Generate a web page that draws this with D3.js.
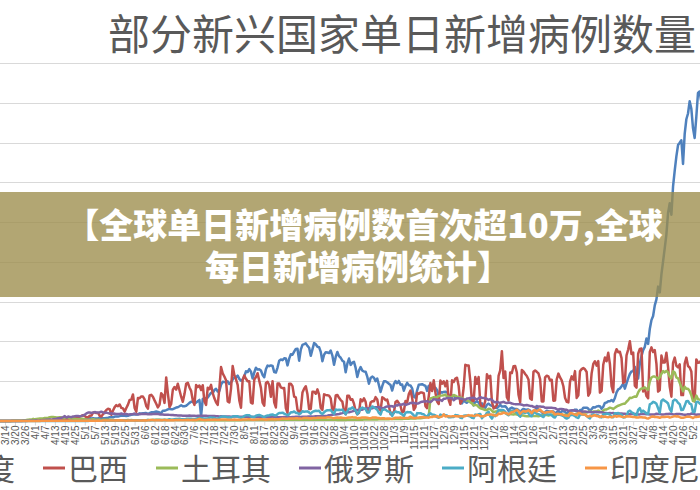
<!DOCTYPE html>
<html><head><meta charset="utf-8">
<script src="https://cdn.jsdelivr.net/npm/d3@7"></script>
<style>
html,body{margin:0;padding:0;background:#fff;}
svg{display:block;}
</style></head>
<body>
<svg id="chart" width="700" height="490"></svg>
<script>
// ---- DATA (daily new cases, thousands; first day 2020-03-01) ----
const startDate = "2020-03-01";
const seriesNames = ["印度","巴西","土耳其","俄罗斯","阿根廷","印度尼西亚"];
const seriesColors = ["#4F81BD","#C0504D","#9BBB59","#8064A2","#4BACC6","#F79646"];
const yTickValues = [0,50,100,150,200,250,300,350,400,450];
const titleText = "部分新兴国家单日新增病例数量";
const bannerLines = ["【全球单日新增病例数首次超10万,全球","每日新增病例统计】"];

const india = [
0,0,0,0,0,0,0, 0,0,0,0,0,0,0, 0,0,0,0,0,0.1,0.1, 0.1,0.1,0.1,0.1,0.1,0.1,0.2,
0.2,0.2,0.4,0.5,0.5,0.5,0.6, 0.5,0.7,0.5,0.5,0.6,0.9,0.9, 0.8,1.2,1.0,0.9,1.1,1.0,1.4,
1.6,1.3,1.5,1.4,1.7,1.8,1.8, 1.6,1.6,1.9,1.7,1.8,2.4,2.5, 2.6,3.9,2.9,3.6,3.3,3.3,3.3,
4.2,3.6,3.6,3.5,3.7,3.9,4.8, 5.0,4.6,5.6,5.6,5.6,6.1,6.7, 6.8,6.5,6.4,6.5,7.3,7.8,8.1,
8.4,8.2,8.3,9.6,9.3,9.8,9.9, 9.9,9.0,9.9,11.0,10.9,11.5,12.0, 11.5,10.7,10.0,13.0,12.9,13.6,14.5,
15.4,14.8,14.9,15.9,16.9,17.3,18.5, 19.9,18.5,18.6,19.1,20.9,22.8,24.3, 24.2,22.2,23.1,24.9,26.5,6.0,27.8,
28.6,28.7,29.4,32.7,35.5,34.9,38.9, 40.4,37.1,37.7,45.7,49.3,48.9,48.7, 49.9,46.5,48.5,52.1,55.1,55.1,57.1,
52.9,50.6,52.1,56.3,62.5,61.5,65.2, 62.1,53.6,61.0,67.0,64.6,65.0,63.5, 57.9,55.1,65.0,69.7,68.9,69.9,69.2,
61.4,60.9,67.2,75.8,77.3,76.5,78.8, 78.5,69.9,78.4,83.9,83.3,87.1,90.6, 90.8,75.8,89.7,95.7,96.6,97.6,94.4,
92.1,81.9,90.1,97.9,96.4,93.3,92.8, 86.9,75.1,83.3,86.5,86.1,85.4,88.6, 82.2,70.6,80.5,86.8,81.5,79.5,75.8,
74.4,61.3,72.0,78.5,70.5,73.3,74.4, 66.7,55.3,63.5,67.7,63.4,62.2,61.9, 55.7,46.8,54.0,55.8,54.4,50.1,53.4,
45.1,36.5,43.9,49.9,49.9,48.6,46.9, 45.2,38.3,46.3,50.2,47.6,50.4,45.7, 45.9,38.1,44.3,47.9,44.9,44.7,41.1,
30.5,29.2,38.6,45.6,45.9,46.2,45.2, 44.1,37.9,44.4,44.5,43.1,41.3,41.8, 38.8,31.1,36.6,35.6,36.6,36.7,36.0,
32.9,26.6,32.1,31.5,29.4,30.0,30.2, 27.1,22.1,26.4,24.0,22.9,25.2,26.6, 24.3,19.6,23.9,24.7,23.1,19.0,22.3,
18.7,16.4,20.5,21.8,20.0,19.1,18.2, 16.5,16.4,18.1,20.3,18.1,18.2,18.6, 16.3,12.6,15.9,16.9,15.6,15.2,15.1,
13.8,10.1,13.8,15.2,14.5,14.3,14.3, 13.2,9.1,12.7,11.7,18.9,13.1,13.1, 11.4,8.6,11.0,12.9,12.4,11.7,12.1,
11.8,9.1,11.1,12.9,9.3,12.1,12.1, 11.6,9.1,11.6,12.9,13.2,13.2,14.3, 14.2,10.6,13.7,13.7,16.7,16.6,16.8,
15.5,12.3,15.0,17.4,17.0,18.3,18.7, 18.6,15.4,17.9,22.8,23.3,24.9,24.9, 26.3,24.5,28.9,35.9,39.7,40.9,43.8,
46.9,40.7,47.3,53.5,59.1,62.3,62.7, 68.0,56.2,53.5,72.3,81.5,89.1,93.2, 103.6,96.9,115.7,126.8,131.9,145.4,152.9,
168.9,161.7,184.4,200.7,217.4,234.7,261.5, 273.8,259.2,295.0,314.8,332.7,346.8,349.7, 352.9,323.1,360.9,379.3,386.5,401.9,392.5,
368.1,355.8,382.3,412.3,414.2,401.1
];

const brazil = [
0,0,0,0,0,0,0, 0,0,0,0,0,0.1,0.1, 0.1,0.1,0.1,0.2,0.2,0.3,0.3, 0.4,0.3,0.3,0.3,0.5,0.5,0.5,
0.4,0.3,1.1,1.1,1.1,1.2,1.2, 0.9,0.9,1.7,2.2,1.9,1.7,1.1, 1.2,1.3,1.8,3.1,2.1,3.3,3.3,
1.9,2.1,1.9,2.3,3.7,3.5,5.5, 4.0,5.4,5.4,6.3,7.2,6.2,4.6, 4.6,6.6,6.9,10.5,11.0,9.9,10.2,
6.6,5.6,8.6,11.4,13.9,15.3,14.9, 7.9,13.1,17.4,19.9,18.5,20.8,16.5, 15.8,11.7,16.3,20.6,26.4,26.9,33.3,
16.4,11.6,28.9,28.6,30.9,30.8,27.1, 18.9,15.6,32.1,32.9,30.4,25.9,21.7, 17.1,20.6,34.9,32.2,22.8,54.8,34.7,
17.5,21.4,39.4,42.7,39.5,46.9,38.7, 30.5,24.1,33.8,46.7,48.1,42.2,37.9, 26.1,20.2,45.3,42.6,44.6,39.0,45.0,
24.8,20.3,41.9,39.9,45.4,34.9,28.5, 23.5,20.3,41.0,67.9,59.9,55.9,51.1, 24.6,23.3,40.8,69.1,57.8,52.4,45.4,
25.8,16.6,51.6,57.2,53.1,49.9,49.9, 23.0,22.0,52.2,55.2,60.1,50.6,41.6, 23.1,19.4,47.8,49.3,45.3,30.4,50.0,
23.4,17.0,47.1,47.2,42.2,41.3,41.4, 16.2,10.3,46.9,46.9,43.8,30.7,29.6, 14.3,10.3,14.3,35.8,40.6,43.7,33.5,
15.0,15.1,36.7,36.8,34.2,39.8,33.1, 16.4,14.0,33.5,32.8,32.4,31.9,28.4, 13.4,14.3,32.0,32.8,29.1,26.3,24.3,
13.2,8.4,31.8,31.6,26.7,27.4,21.8, 12.3,8.4,10.2,27.2,24.8,28.5,24.1, 11.2,12.2,23.2,24.8,24.8,30.0,27.1,
16.0,13.0,29.8,28.6,26.1,26.9,18.9, 8.4,10.4,10.1,23.9,25.5,22.4,18.9, 10.6,12.3,25.2,23.2,33.9,38.3,29.1,
14.0,17.5,35.3,34.1,35.8,35.7,34.9, 18.6,16.2,31.1,47.9,37.6,51.1,35.6, 24.5,21.4,50.9,46.9,49.9,43.7,50.5,
26.4,20.4,51.1,49.0,53.4,54.4,43.9, 21.8,25.2,42.1,70.6,69.8,69.8,50.2, 25.0,25.0,55.2,46.7,55.4,22.0,17.3,
18.5,25.1,58.7,54.0,56.8,24.6,15.8, 17.3,20.0,56.6,63.6,87.8,54.2,62.3, 29.8,25.8,61.0,60.3,68.9,69.2,61.0,
33.0,23.7,64.0,62.3,59.1,56.6,52.2, 28.3,26.8,61.8,63.5,61.8,59.8,52.7, 24.6,24.6,54.9,56.9,56.0,50.9,51.9,
25.5,25.8,52.5,59.6,54.7,51.1,43.7, 29.2,24.0,23.4,49.4,56.1,51.9,62.7, 29.0,32.2,62.5,65.2,66.6,65.0,61.6,
31.7,35.6,59.9,71.7,75.1,69.6,75.3, 35.7,37.9,70.8,79.9,75.1,85.7,71.7, 43.8,36.2,83.9,90.3,86.5,87.1,79.1,
47.8,49.3,82.5,89.9,100.2,84.2,85.9, 44.3,42.0,84.5,90.6,91.1,37.0,41.2, 31.3,28.6,86.9,92.6,86.7,89.1,71.8,
37.0,38.9,82.2,73.5,73.5,85.8,67.6, 42.9,30.6,73.2,79.7,69.4,67.5,71.1, 32.6,32.6,72.1,79.7,69.1,67.2,62.3,
28.9,24.6,77.4,73.3,73.4,76.7
];

const turkey = [
0,0,0,0,0,0,0, 0,0,0,0,0,0,0, 0,0,0,0.1,0.2,0.2,0.3, 0.3,0.3,0.3,0.6,0.6,1.2,1.7,
1.8,1.6,2.7,2.1,2.5,2.8,3.0, 3.1,3.1,3.9,3.9,4.1,4.7,5.1, 5.0,4.8,4.3,4.3,4.8,4.4,3.8,
3.9,4.7,4.6,3.1,3.1,3.1,2.9, 2.4,2.1,2.4,2.9,2.7,2.2,1.8, 1.7,1.6,1.8,2.3,1.8,1.6,1.5,
1.5,1.1,1.7,1.6,1.6,1.7,1.6, 1.4,1.3,1.0,1.0,1.0,1.0,1.0, 0.9,1.1,1.0,1.2,1.1,1.2,1.1,
0.8,0.8,0.9,1.0,1.0,1.0,1.0, 1.0,1.2,1.3,1.2,1.3,1.3,1.5, 1.6,1.6,1.4,1.3,1.3,1.2,1.2,
1.2,1.2,1.5,1.4,1.4,1.2,1.1, 1.4,1.3,1.2,1.3,1.2,1.2,1.1, 1.0,1.0,1.1,1.1,1.0,1.0,1.0,
1.0,0.9,0.9,0.9,0.9,0.9,0.9, 0.9,0.9,0.9,0.9,0.9,0.9,0.9, 0.9,0.9,0.9,1.0,1.0,1.0,1.0,
1.0,1.0,1.1,1.2,1.2,1.2,1.2, 1.2,1.2,1.2,1.2,1.2,1.2,1.2, 1.2,1.3,1.3,1.3,1.3,1.3,1.3,
1.4,1.4,1.5,1.5,1.5,1.5,1.5, 1.5,1.5,1.5,1.6,1.6,1.6,1.7, 1.7,1.7,1.7,1.7,1.7,1.7,1.7,
1.7,1.7,1.7,1.7,1.7,1.7,1.7, 1.6,1.6,1.6,1.6,1.6,1.5,1.5, 1.5,1.5,1.5,1.4,1.4,1.4,1.4,
1.4,1.4,1.5,1.5,1.5,1.5,1.5, 1.5,1.6,1.6,1.7,1.7,1.8,1.8, 1.8,1.8,1.9,1.9,2.0,2.0,2.0,
2.1,2.1,2.2,2.3,2.3,2.3,2.3, 2.4,2.4,2.4,2.4,2.5,2.5,2.6, 2.6,2.7,2.7,2.8,2.9,3.0,3.0,
3.1,3.2,3.3,3.4,3.6,3.8,4.0, 4.6,5.5,6.0,28.4,29.1,29.8,29.6, 30.1,31.2,31.9,32.1,32.4,33.2,30.4,
30.4,29.1,30.4,32.7,31.9,30.4,30.0, 29.6,29.0,27.5,26.4,25.8,25.4,23.4, 22.1,19.6,20.3,19.9,17.6,16.1,15.4,
14.6,13.7,13.9,15.4,15.0,12.9,11.0, 11.9,12.4,13.2,13.1,11.9,11.1,10.0, 8.7,8.4,8.9,8.4,8.1,8.8,8.2,
7.3,6.8,6.9,6.9,6.2,5.9,6.0, 6.4,6.2,6.3,6.2,6.2,6.0,6.6, 7.1,7.0,7.4,7.4,7.0,7.6,8.2,
7.9,7.4,8.3,7.9,8.0,7.9,7.5, 7.8,7.1,8.0,8.1,8.0,8.4,8.6, 9.0,8.5,9.4,9.9,10.5,10.9,10.7,
11.5,11.8,11.3,11.8,12.0,11.4,13.2, 11.6,11.3,13.0,14.4,14.6,15.5,16.8, 16.2,15.2,16.7,18.1,19.2,20.0,20.8,
21.6,21.6,24.2,26.2,29.3,28.9,30.0, 30.8,30.6,35.9,39.3,40.8,41.0,42.3, 40.4,39.3,49.6,54.7,55.9,55.8,54.7,
52.7,55.1,59.2,62.8,61.0,63.1,61.0, 55.9,53.4,62.6,61.0,54.8,53.7,48.1, 42.7,37.3,43.0,40.4,40.4,37.7,32.4,
25.0,24.7,31.9,27.5,26.8,26.1
];

const russia = [
0,0,0,0,0,0,0, 0,0,0,0,0,0,0, 0,0,0,0,0,0.1,0.1, 0.1,0.1,0.1,0.2,0.2,0.2,0.2,
0.3,0.5,0.4,0.8,0.8,0.6,0.6, 1.0,1.2,1.2,1.5,1.5,1.8,1.7, 2.2,2.6,2.8,3.4,3.4,4.1,4.8,
6.1,4.3,5.6,5.2,4.8,5.8,5.9, 6.4,6.2,5.8,6.4,7.1,7.9,9.6, 10.6,10.6,10.1,10.6,11.2,10.7,10.8,
11.0,11.7,10.9,10.0,10.6,9.9,9.2, 9.7,8.9,9.3,8.8,8.8,8.9,9.4, 8.6,8.9,8.9,8.3,8.4,8.6,8.9,
9.3,8.5,8.5,8.5,8.8,8.7,8.9, 8.9,8.6,8.6,8.4,8.8,8.8,8.7, 8.8,8.3,8.2,8.2,7.8,7.9,8.0,
7.7,7.6,7.6,7.2,7.1,7.0,6.9, 6.8,6.7,6.6,6.6,6.7,6.8,6.7, 6.6,6.6,6.4,6.6,6.5,6.6,6.6,
6.6,6.5,6.4,6.4,6.4,6.3,6.2, 6.1,6.0,5.8,5.9,5.8,5.8,5.8, 5.8,5.6,5.4,5.5,5.5,5.5,5.5,
5.4,5.4,5.2,5.2,5.2,5.2,5.2, 5.2,5.1,5.1,5.1,5.1,5.1,5.1, 5.0,4.9,4.8,4.8,4.8,4.8,4.9,
4.9,4.9,4.7,4.7,4.7,4.7,4.9, 4.9,4.7,4.7,4.8,4.9,5.0,5.2, 5.2,5.2,5.1,5.4,5.4,5.4,5.5,
5.5,5.5,5.5,5.7,5.9,6.0,6.1, 6.2,6.1,6.2,6.4,6.6,7.2,7.5, 7.9,8.1,8.1,8.5,8.9,9.4,9.9,
10.5,10.9,10.9,11.1,11.5,12.1,12.8, 13.6,13.8,13.9,14.2,14.2,15.2,15.7, 15.9,15.9,15.8,15.9,16.9,17.3,17.4,
17.2,16.6,16.0,16.2,17.7,18.3,18.1, 18.7,18.6,17.6,19.8,19.4,20.6,20.4, 20.7,21.8,20.0,20.9,21.6,22.7,22.8,
22.6,22.4,21.8,22.4,23.6,24.3,24.6, 24.6,25.0,24.3,23.7,25.5,27.5,27.1, 26.3,26.4,26.4,25.3,28.1,28.1,28.8,
29.0,28.8,28.7,26.1,27.9,28.6,28.5, 28.1,28.0,27.0,26.8,28.2,28.5,28.9, 28.9,29.4,28.1,27.0,28.6,29.9,29.3,
29.0,28.7,27.9,26.5,27.7,26.5,24.3, 23.4,24.2,23.3,23.0,23.5,24.1,23.0, 22.7,23.3,22.9,22.0,21.5,21.2,21.1,
21.1,21.0,20.5,19.5,19.8,20.0,19.5, 19.0,18.9,17.8,17.3,17.9,18.2,18.1, 18.0,17.9,16.6,16.6,16.6,16.7,16.6,
16.2,16.1,14.9,14.5,15.0,15.0,14.9, 14.0,14.0,12.9,12.8,13.4,13.4,13.0, 12.7,12.0,11.7,11.7,12.0,11.8,11.5,
11.4,11.4,11.0,11.0,11.4,11.5,11.0, 11.0,11.0,10.5,10.2,10.0,9.9,10.0, 9.9,10.1,9.3,9.2,9.3,9.4,9.5,
9.2,9.2,8.4,8.4,8.6,8.9,9.1, 8.7,8.8,8.3,8.3,8.7,8.8,8.8, 8.6,8.6,8.3,8.2,8.3,8.3,9.1,
8.7,8.8,8.3,8.2,8.4,8.7,8.8, 9.0,8.7,8.4,8.2,8.8,8.9,8.8, 8.6,8.1,8.0,8.0,8.4,8.3,9.3,
9.2,8.5,7.9,8.2,8.3,8.4
];

const argentina = [
0,0,0,0,0,0,0, 0,0,0,0,0,0,0, 0,0,0,0,0,0,0.1, 0,0.1,0,0.1,0.1,0.1,0.1,
0.1,0.1,0.1,0.1,0.1,0.1,0.1, 0.1,0.1,0.1,0.1,0.1,0.1,0.1, 0.1,0.1,0.1,0.1,0.1,0.1,0.1,
0.1,0.1,0.1,0.1,0.1,0.2,0.1, 0.1,0.1,0.1,0.1,0.2,0.1,0.2, 0.1,0.2,0.2,0.2,0.2,0.2,0.2,
0.2,0.2,0.3,0.3,0.3,0.3,0.4, 0.4,0.4,0.5,0.5,0.6,0.7,0.7, 0.7,0.5,0.6,0.6,0.8,0.8,0.8,
0.6,0.6,0.7,0.9,0.9,0.9,1.0, 1.0,1.2,1.1,1.1,1.4,1.4,1.4, 1.3,1.2,1.4,1.4,1.6,1.4,1.6,
2.1,1.6,1.6,2.1,2.6,2.6,2.9, 2.3,2.3,2.1,2.7,2.8,2.7,2.8, 2.6,2.4,2.6,3.6,3.7,3.4,3.4,
3.0,3.1,3.0,4.3,4.3,4.2,4.1, 3.0,3.3,4.0,5.3,5.8,5.7,5.3, 4.4,4.7,4.3,5.6,6.0,5.9,5.9,
4.6,4.1,4.8,6.4,7.1,7.4,7.1, 5.5,5.3,4.9,6.7,7.2,7.6,6.7, 5.7,4.9,6.4,6.8,7.2,7.9,8.2,
7.2,6.8,8.7,10.1,10.1,10.5,9.2, 8.2,7.3,8.4,10.9,10.9,12.0,10.2, 10.3,8.4,9.9,12.3,11.7,11.9,12.1,
10.8,9.1,11.5,12.3,13.0,12.7,12.9, 10.1,8.8,10.9,12.6,13.5,13.5,13.9, 11.0,9.2,14.4,13.9,14.0,13.8,14.3,
11.3,8.5,12.2,15.5,15.5,17.1,15.1, 13.1,8.5,10.9,15.6,16.9,15.8,15.2, 10.8,10.6,16.3,18.3,17.1,15.7,14.1,
10.2,8.1,13.9,14.4,14.3,12.4,11.8, 10.6,6.4,10.6,12.0,11.0,11.1,9.6, 8.3,6.0,10.4,11.2,11.0,11.0,9.3,
7.0,4.4,9.9,9.8,9.8,8.8,8.5, 6.3,5.4,8.3,9.6,8.2,7.8,7.1, 5.0,4.1,8.1,6.7,7.8,7.3,6.8,
4.6,4.6,5.1,4.9,7.6,7.1,6.7, 4.0,3.6,6.6,6.9,6.8,6.4,5.7, 4.1,3.6,8.1,7.3,8.4,8.9,3.4,
6.0,6.7,10.4,11.6,5.8,3.0,7.3, 6.1,9.6,13.8,13.8,13.8,13.5,11.8, 8.9,7.2,12.0,13.0,12.1,12.1,10.5,
7.7,5.4,10.6,10.6,10.1,11.2,9.6, 6.4,5.9,11.0,10.5,9.2,8.6,7.8, 6.1,5.0,8.4,8.6,8.1,8.2,7.2,
5.1,4.4,8.2,8.3,7.8,7.1,6.3, 4.2,3.0,4.1,7.4,7.5,7.4,6.2, 4.5,3.8,8.0,8.5,7.9,7.8,6.7,
4.6,3.3,7.5,8.4,7.6,7.6,6.9, 5.1,4.5,8.5,8.4,9.3,8.9,7.9, 5.0,4.7,9.6,9.6,10.1,8.5,8.0,
4.5,4.6,6.4,11.9,12.9,11.0,9.9, 7.8,7.1,14.0,16.1,11.1,13.1,11.3, 9.5,8.9,20.9,22.0,24.1,23.3,21.6,
16.0,10.4,25.2,27.0,25.2,24.1,22.0, 15.1,11.8,25.2,26.9,25.9,22.8,21.2, 13.7,14.1,19.1,24.9,25.1,21.9,20.8,
11.1,11.7,23.5,24.2,22.0,20.5
];

const indonesia = [
0,0,0,0,0,0,0, 0,0,0,0,0,0,0, 0,0,0,0,0,0.1,0.1, 0.1,0.1,0.1,0.1,0.1,0.1,0.1,
0.1,0.1,0.1,0.1,0.1,0.2,0.1, 0.2,0.2,0.2,0.2,0.3,0.2,0.3, 0.4,0.3,0.3,0.3,0.4,0.4,0.3,
0.2,0.2,0.4,0.3,0.4,0.4,0.4, 0.3,0.2,0.4,0.3,0.3,0.3,0.3, 0.3,0.5,0.4,0.4,0.3,0.3,0.5,
0.4,0.2,0.5,0.7,0.6,0.6,0.5, 0.5,0.5,0.5,0.7,1.0,0.6,0.9, 0.5,0.5,0.4,0.7,0.7,0.6,0.6,
0.7,0.5,0.6,0.7,0.6,0.7,1.0, 0.7,0.8,1.0,1.2,1.2,1.0,1.1, 0.9,1.0,1.1,1.1,1.3,1.0,1.0,
0.9,1.0,1.1,1.1,1.2,1.2,1.4, 1.2,1.1,1.3,1.4,1.6,1.4,1.4, 1.6,1.2,1.3,1.9,2.7,1.6,1.7,
1.3,1.3,1.6,1.5,1.5,1.6,1.8, 1.6,1.7,1.7,1.9,1.8,1.8,1.9, 1.5,1.5,1.7,1.7,1.9,1.7,1.6,
1.5,1.6,1.9,1.8,2.0,2.1,2.3, 1.9,1.7,1.7,1.9,2.0,2.1,2.3, 2.1,2.0,1.7,2.0,2.3,2.2,2.5,
2.0,2.3,2.3,2.3,2.7,3.3,3.0, 2.9,2.7,3.1,3.1,3.3,3.3,3.4, 3.4,3.0,3.0,3.3,3.9,3.7,3.8,
3.6,3.1,3.5,3.9,3.6,4.0,4.2, 4.2,4.1,4.1,4.1,4.6,4.8,4.5, 3.9,3.5,4.0,4.3,4.2,4.3,4.0,
3.9,3.6,4.1,4.5,4.4,4.9,4.3, 4.5,3.3,3.9,4.1,4.4,4.3,4.3, 4.1,3.4,3.6,4.3,4.4,4.4,4.0,
3.8,3.2,3.5,3.6,2.9,3.0,3.1, 2.7,2.6,3.4,4.1,4.1,4.1,4.3, 3.9,3.9,3.8,3.9,4.2,5.4,4.3,
3.8,3.8,4.2,4.3,4.8,4.8,4.9, 4.4,4.4,4.2,4.9,4.9,5.8,5.4, 6.3,4.6,5.1,5.5,8.4,5.8,6.0,
6.1,5.8,5.9,6.1,6.1,6.0,5.6, 6.1,6.1,5.5,6.1,6.7,7.4,6.8, 6.8,6.3,6.7,7.5,7.3,6.0,5.9,
6.0,6.6,7.9,8.0,8.1,8.1,7.2, 6.9,7.0,9.3,8.9,9.3,10.6,10.0, 9.6,8.2,9.9,11.3,11.6,12.8,14.2,
12.4,9.1,11.3,12.6,11.7,12.2,13.6, 11.8,9.9,13.1,13.6,11.9,13.8,14.5, 12.0,10.9,10.2,11.1,11.4,11.7,12.2,
10.8,8.2,8.7,9.0,8.4,8.6,7.4, 6.8,6.5,6.2,10.0,9.7,9.0,8.1, 7.3,10.2,9.8,8.5,8.2,8.2,6.0,
5.6,6.7,5.7,6.8,7.3,6.2,5.9, 5.0,6.2,5.1,5.6,5.0,4.6,5.6, 4.6,5.4,6.3,5.4,6.1,6.3,5.2,
4.9,5.0,6.0,5.6,5.7,5.3,5.0, 5.0,4.3,4.5,4.6,4.7,4.3,4.4, 3.5,3.1,4.1,5.3,5.6,4.9,5.0,
4.6,4.1,4.9,5.2,5.0,5.3,5.4, 4.4,4.9,5.5,6.2,5.7,5.9,4.9, 4.0,4.0,4.6,5.2,5.4,5.4,4.8,
3.7,5.1,5.1,5.2,5.7,5.9
];

const seriesValues = [india, brazil, turkey, russia, argentina, indonesia];

// ---- CHART ----
const W = 700, H = 490;
const svg = d3.select("#chart");
const t0 = d3.utcParse("%Y-%m-%d")(startDate);

const x = d3.scaleUtc()
  .domain([Date.UTC(2020,2,14), Date.UTC(2021,4,2)])
  .range([5, 693]);
const y = d3.scaleLinear().domain([0, 450]).range([421, 63]);

// gridlines
svg.append("g").selectAll("line").data(yTickValues.slice(1)).join("line")
  .attr("x1", 0).attr("x2", W)
  .attr("y1", d => Math.round(y(d)) + 0.5).attr("y2", d => Math.round(y(d)) + 0.5)
  .attr("stroke", "#d9d9d9").attr("stroke-width", 1);

// x axis
const tickDates = d3.utcDay.range(Date.UTC(2020,2,8), Date.UTC(2021,4,3), 6);
const xAxis = d3.axisBottom(x).tickValues(tickDates).tickFormat(d3.utcFormat("%-m/%-d")).tickSize(4).tickSizeOuter(0);
const gx = svg.append("g").attr("transform", `translate(0,${Math.round(y(0)) + 0.5})`).call(xAxis);
gx.select(".domain").attr("stroke", "#d9d9d9").attr("d", `M0,0H${W}`);
gx.selectAll(".tick line").attr("stroke", "#d9d9d9");
gx.selectAll(".tick text")
  .attr("transform", "rotate(-90)")
  .attr("text-anchor", "end")
  .attr("x", -4).attr("y", 0).attr("dy", "0.35em")
  .attr("fill", "#595959")
  .style("font-family", "'Liberation Sans', Arial, sans-serif")
  .style("font-size", "10px");

// lines
const line = d3.line()
  .x((d, i) => x(d3.utcDay.offset(t0, i)))
  .y(d => y(d));
svg.append("g").selectAll("path").data(seriesValues).join("path")
  .attr("d", d => line(d))
  .attr("fill", "none")
  .attr("stroke", (d, i) => seriesColors[i])
  .attr("stroke-width", 2.5)
  .attr("stroke-linejoin", "round")
  .attr("stroke-linecap", "round");

// title
svg.append("text")
  .attr("x", 108).attr("y", 50)
  .attr("fill", "#595959")
  .style("font-family", "'Noto Sans CJK SC', sans-serif")
  .style("font-size", "42px")
  .text(titleText);

// legend
const legendItemStart = [];
let lx = -70;
seriesNames.forEach((n, i) => { legendItemStart.push(lx); lx += 22 + 3 + n.length * 30 + 28; });
const lg = svg.append("g").selectAll("g").data(seriesNames).join("g")
  .attr("transform", (d, i) => `translate(${legendItemStart[i]},468)`);
lg.append("line").attr("x1", 0).attr("x2", 22).attr("y1", 0).attr("y2", 0)
  .attr("stroke", (d, i) => seriesColors[i]).attr("stroke-width", 3);
lg.append("text").attr("x", 25).attr("y", 12)
  .attr("fill", "#595959")
  .style("font-family", "'Noto Sans CJK SC', sans-serif")
  .style("font-size", "30px")
  .text(d => d);

// banner overlay
svg.append("rect").attr("x", 0).attr("y", 192).attr("width", W).attr("height", 105)
  .attr("fill", "#9c8d4c").attr("opacity", 0.78);
const bannerX = [364, 358];
svg.append("g").selectAll("text").data(bannerLines).join("text")
  .attr("x", (d, i) => bannerX[i]).attr("y", (d, i) => 238 + i * 42)
  .attr("text-anchor", "middle")
  .attr("fill", "#ffffff")
  .style("font-family", "'Noto Sans CJK SC', sans-serif")
  .style("font-weight", "900")
  .style("font-size", "34px")
  .text(d => d);
</script>
</body></html>
